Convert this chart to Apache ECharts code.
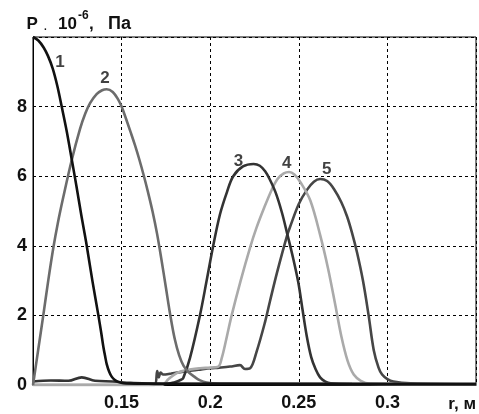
<!DOCTYPE html>
<html><head><meta charset="utf-8">
<script src="https://cdn.jsdelivr.net/npm/echarts@6/dist/echarts.min.js"></script>
<style>html,body{margin:0;padding:0;background:#fff}#c{width:479px;height:414px}</style>
</head><body><div id="c"></div>
<script>
// Curve 1
const r1 = [0.100,0.103,0.106,0.1085,0.1111,0.1137,0.1162,0.119,0.1218,0.1245,0.1272,0.1300,0.1335,0.1369,0.1385,0.1397,0.1408,0.1416,0.143,0.1444,0.146,0.1481,0.151,0.160,0.350];
const p1 = [10.0,9.9,9.7,9.45,9.1,8.6,8.0,7.3,6.5,5.72,4.9,4.1,3.0,2.0,1.5,1.1,0.8,0.6,0.38,0.24,0.15,0.09,0.05,0.04,0.03];
// Curve 2
const r2 = [0.100,0.1029,0.1058,0.1086,0.1115,0.1140,0.1171,0.1218,0.1265,0.1295,0.1322,0.1359,0.139,0.1416,0.145,0.1481,0.150,0.1525,0.155,0.1575,0.160,0.1625,0.165,0.1675,0.170,0.1725,0.175,0.1775,0.180,0.1825,0.185,0.188,0.191,0.194,0.198,0.205,0.350];
const p2 = [0.0,1.0,2.0,3.0,3.95,4.65,5.4,6.45,7.35,7.8,8.1,8.36,8.47,8.5,8.42,8.2,8.0,7.65,7.28,6.9,6.48,6.02,5.52,4.98,4.35,3.6,2.8,2.0,1.32,0.85,0.55,0.36,0.24,0.14,0.07,0.04,0.03];
// Curve 3
const r3 = [0.100,0.110,0.120,0.1275,0.135,0.145,0.155,0.165,0.175,0.180,0.1835,0.1848,0.1886,0.1942,0.198,0.2017,0.2055,0.2095,0.213,0.2185,0.2245,0.228,0.231,0.2335,0.237,0.2405,0.2433,0.247,0.2497,0.252,0.2545,0.257,0.2595,0.262,0.265,0.268,0.280,0.350];
const p3 = [0.1,0.13,0.12,0.22,0.12,0.1,0.06,0.04,0.03,0.08,0.15,0.2,0.78,2.0,3.0,4.0,4.9,5.55,6.0,6.28,6.35,6.3,6.14,5.92,5.52,4.95,4.38,3.6,2.95,2.2,1.4,0.8,0.45,0.22,0.1,0.05,0.03,0.02];
// Curve 4
const r4 = [0.100,0.1726,0.1765,0.1811,0.186,0.1942,0.200,0.2046,0.2065,0.209,0.2121,0.2172,0.2225,0.226,0.2305,0.2348,0.238,0.2415,0.2445,0.2475,0.251,0.2565,0.2621,0.2665,0.2706,0.274,0.2775,0.281,0.285,0.290,0.350];
const p4 = [0.0,0.0,0.17,0.34,0.42,0.48,0.5,0.53,0.77,1.3,2.0,3.0,3.95,4.5,5.1,5.62,5.92,6.08,6.12,6.05,5.82,5.3,4.3,3.35,2.3,1.4,0.7,0.3,0.12,0.04,0.02];
// Curve 5
const r5 = [0.100,0.1685,0.1701,0.171,0.172,0.1735,0.178,0.1848,0.190,0.195,0.200,0.205,0.2112,0.2168,0.2196,0.2225,0.2262,0.2309,0.2337,0.2377,0.2433,0.2452,0.250,0.2545,0.2585,0.2621,0.266,0.270,0.274,0.2772,0.280,0.2829,0.2862,0.2894,0.2923,0.295,0.297,0.300,0.3034,0.313,0.350];
const p5 = [0.0,0.0,0.4,0.22,0.36,0.3,0.33,0.38,0.42,0.45,0.48,0.5,0.53,0.57,0.46,0.48,0.96,1.8,2.4,3.23,4.28,4.56,5.2,5.6,5.84,5.92,5.86,5.62,5.25,4.85,4.38,3.8,3.0,2.0,1.0,0.5,0.3,0.17,0.1,0.05,0.03];
// Curve labels
const labelNames = ['1','2','3','4','5'];
const labelR = [0.1152,0.1406,0.2159,0.2432,0.2657];
const labelP = [9.27,8.81,6.42,6.37,6.2];
// Ticks
const xTicks = ['0.15','0.2','0.25','0.3'];
const yTicks = ['0','2','4','6','8'];

const FONT = '"Liberation Sans", Arial, sans-serif';
const colors = ['#111111','#6c6c6c','#333333','#aaaaaa','#464646'];
const rs = [r1,r2,r3,r4,r5], ps = [p1,p2,p3,p4,p5];
const zord = [5,4,3,2,1];
const series = rs.map((r,i)=>({
  type:'line', data:r.map((x,j)=>[x,ps[i][j]]), showSymbol:false, smooth:0.35,
  lineStyle:{color:colors[i],width:2.6}, z:zord[i], animation:false
}));
series.push({
  type:'scatter', symbolSize:0, animation:false, z:10,
  data:labelNames.map((n,i)=>({value:[labelR[i],labelP[i]],name:n})),
  label:{show:true,position:'inside',formatter:p=>p.name,fontFamily:FONT,fontWeight:'bold',fontSize:17,color:'#111'}
});
const fmtX = v=>{const s=String(+v.toFixed(2));return xTicks.includes(s)?s:'';};
const fmtY = v=>{const s=String(Math.round(v));return yTicks.includes(s)?s:'';};
const T = (x,y,text,size)=>({type:'text',x:x,y:y,silent:true,style:{text:text,font:'bold '+size+'px '+FONT,fill:'#111',verticalAlign:'middle'}});
const chart = echarts.init(document.getElementById('c'),null,{renderer:'canvas'});
chart.setOption({
  backgroundColor:'#fff', animation:false,
  grid:{left:33,top:37,right:3,bottom:29,show:true,borderColor:'#000',borderWidth:1,backgroundColor:'transparent'},
  xAxis:{type:'value',min:0.1,max:0.35,interval:0.05,
    axisLine:{show:true,lineStyle:{color:'#000',width:1}},axisTick:{show:false},
    splitLine:{show:true,lineStyle:{color:'#000',width:1,type:[3,3]}},
    axisLabel:{formatter:fmtX,color:'#111',fontFamily:FONT,fontWeight:'bold',fontSize:18,margin:9}},
  yAxis:{type:'value',min:0,max:10,interval:2,
    axisLine:{show:true,lineStyle:{color:'#000',width:1}},axisTick:{show:false},
    splitLine:{show:true,lineStyle:{color:'#000',width:1,type:[3,3]}},
    axisLabel:{formatter:fmtY,color:'#111',fontFamily:FONT,fontWeight:'bold',fontSize:18,margin:6}},
  graphic:[
    T(26.5,24,'P',17),
    T(44,27,'.',10),
    T(58,24,'10',17),
    T(78,16,'-6',12),
    T(89,24,',',17),
    T(108,24,'Па',18),
    {type:'text',x:476,y:404,silent:true,style:{text:'r, м',font:'bold 17px '+FONT,fill:'#111',align:'right',verticalAlign:'middle'}}
  ],
  series:series
});
</script></body></html>
